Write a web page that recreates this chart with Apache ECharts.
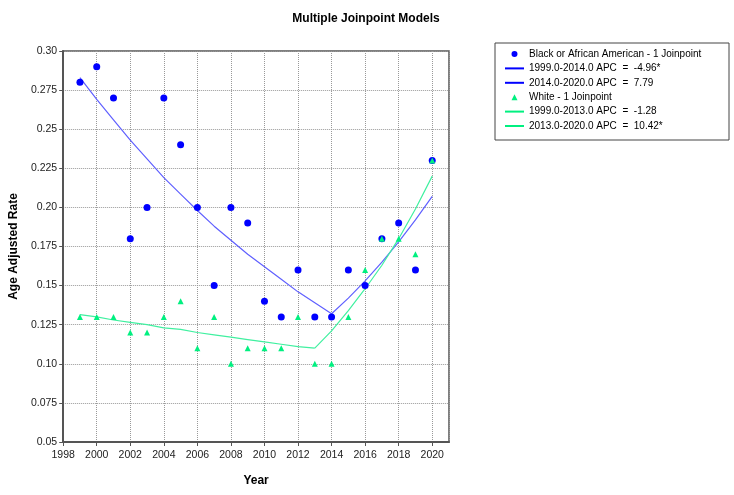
<!DOCTYPE html>
<html>
<head>
<meta charset="utf-8">
<script src="https://cdn.jsdelivr.net/npm/echarts@6/dist/echarts.min.js"></script>
<style>
  html, body { margin: 0; padding: 0; background: #fff; }
  #chart { width: 734px; height: 495px; }
</style>
</head>
<body>
<div id="chart"></div>
<script>
const years = [1999, 2000, 2001, 2002, 2003, 2004, 2005, 2006, 2007, 2008, 2009,
               2010, 2011, 2012, 2013, 2014, 2015, 2016, 2017, 2018, 2019, 2020];

// observed rates
const blackRates = [0.28, 0.29, 0.27, 0.18, 0.20, 0.27, 0.24, 0.20, 0.15, 0.20, 0.19,
                    0.14, 0.13, 0.16, 0.13, 0.13, 0.16, 0.15, 0.18, 0.19, 0.16, 0.23];
const whiteRates = [0.13, 0.13, 0.13, 0.12, 0.12, 0.13, 0.14, 0.11, 0.13, 0.10, 0.11,
                    0.11, 0.11, 0.13, 0.10, 0.10, 0.13, 0.16, 0.18, 0.18, 0.17, 0.23];

// fitted joinpoint segments
const blackFitYearsA = [1999, 2000, 2001, 2002, 2003, 2004, 2005, 2006, 2007, 2008, 2009, 2010, 2011, 2012, 2013, 2014];
const blackFitA = [0.283, 0.269, 0.256, 0.243, 0.231, 0.219, 0.2085, 0.198, 0.188, 0.179, 0.170, 0.162, 0.154, 0.146, 0.139, 0.132];
const blackFitYearsB = [2014, 2015, 2016, 2017, 2018, 2019, 2020];
const blackFitB = [0.132, 0.142, 0.153, 0.165, 0.178, 0.192, 0.207];
const whiteFitYearsA = [1999, 2000, 2001, 2002, 2003, 2004, 2005, 2006, 2007, 2008, 2009, 2010, 2011, 2012, 2013];
const whiteFitA = [0.1315, 0.130, 0.128, 0.1265, 0.125, 0.123, 0.122, 0.120, 0.1185, 0.117, 0.1155, 0.114, 0.1125, 0.111, 0.110];
const whiteFitYearsB = [2013, 2014, 2015, 2016, 2017, 2018, 2019, 2020];
const whiteFitB = [0.110, 0.121, 0.134, 0.148, 0.163, 0.180, 0.199, 0.220];

const seriesNames = [
  'Black or African American - 1 Joinpoint',
  '1999.0-2014.0 APC  =  -4.96*',
  '2014.0-2020.0 APC  =  7.79',
  'White - 1 Joinpoint',
  '1999.0-2013.0 APC  =  -1.28',
  '2013.0-2020.0 APC  =  10.42*'
];

const yTickLabels = ['0.05', '0.075', '0.10', '0.125', '0.15', '0.175', '0.20', '0.225', '0.25', '0.275', '0.30'];

const pair = (xs, ys) => xs.map((x, i) => [x, ys[i]]);

const font = 'Liberation Sans';
const blue = '#0000ff';
const green = '#00f080';
const lineIcon = 'path://M0,0L19,0L19,2L0,2Z';
const dotIcon = 'path://M3,0A3,3,0,1,1,2.99,0Z';
const triIcon = 'path://M3,0L6,6L0,6Z';

const chart = echarts.init(document.getElementById('chart'));

chart.setOption({
  animation: false,
  backgroundColor: '#fff',
  textStyle: { fontFamily: font },
  title: {
    text: 'Multiple Joinpoint Models',
    left: 361,
    top: 8,
    textAlign: 'center',
    textStyle: { fontSize: 12, fontWeight: 'bold', color: '#000', fontFamily: font }
  },
  grid: {
    left: 61, right: 285, top: 51, bottom: 53,
    show: true, borderColor: '#555', borderWidth: 1.5, backgroundColor: '#fff'
  },
  legend: {
    orient: 'vertical',
    left: 495,
    top: 43,
    padding: [4, 8, 7, 10],
    itemWidth: 19,
    itemHeight: 6,
    itemGap: 0.4,
    borderColor: '#444',
    borderWidth: 1,
    textStyle: { fontSize: 10, color: '#000', width: 192, lineHeight: 14, fontFamily: font },
    data: [
      { name: seriesNames[0], icon: dotIcon, itemStyle: { color: blue } },
      { name: seriesNames[1], icon: lineIcon, itemStyle: { color: blue } },
      { name: seriesNames[2], icon: lineIcon, itemStyle: { color: blue } },
      { name: seriesNames[3], icon: triIcon, itemStyle: { color: green } },
      { name: seriesNames[4], icon: lineIcon, itemStyle: { color: green } },
      { name: seriesNames[5], icon: lineIcon, itemStyle: { color: green } }
    ]
  },
  xAxis: {
    type: 'value',
    min: 1998, max: 2021, interval: 2,
    name: 'Year',
    nameLocation: 'middle',
    nameGap: 33,
    nameTextStyle: { fontSize: 12, fontWeight: 'bold', color: '#000' },
    axisLine: { lineStyle: { color: '#555', width: 2 } },
    axisTick: { length: 4, lineStyle: { color: '#555' } },
    axisLabel: { showMaxLabel: false, fontSize: 10.5, color: '#222', margin: 8, formatter: v => String(v) },
    splitLine: { lineStyle: { color: '#999', type: 'dotted' } }
  },
  yAxis: {
    type: 'value',
    min: 0.05, max: 0.30, interval: 0.025,
    name: 'Age Adjusted Rate',
    nameLocation: 'middle',
    nameGap: 41,
    nameTextStyle: { fontSize: 12, fontWeight: 'bold', color: '#000' },
    axisLine: { show: true, lineStyle: { color: '#555', width: 2 } },
    axisTick: { show: true, length: 4, lineStyle: { color: '#555' } },
    axisLabel: {
      fontSize: 10.5, color: '#222', margin: 6,
      formatter: v => yTickLabels[Math.round((v - 0.05) / 0.025)]
    },
    splitLine: { lineStyle: { color: '#999', type: 'dotted' } }
  },
  series: [
    {
      name: seriesNames[1], type: 'line', data: pair(blackFitYearsA, blackFitA),
      symbol: 'none', lineStyle: { color: '#6060ff', width: 1.2 }, itemStyle: { color: blue }, z: 2
    },
    {
      name: seriesNames[2], type: 'line', data: pair(blackFitYearsB, blackFitB),
      symbol: 'none', lineStyle: { color: '#6060ff', width: 1.2 }, itemStyle: { color: blue }, z: 2
    },
    {
      name: seriesNames[4], type: 'line', data: pair(whiteFitYearsA, whiteFitA),
      symbol: 'none', lineStyle: { color: '#40f0a0', width: 1.2 }, itemStyle: { color: green }, z: 2
    },
    {
      name: seriesNames[5], type: 'line', data: pair(whiteFitYearsB, whiteFitB),
      symbol: 'none', lineStyle: { color: '#40f0a0', width: 1.2 }, itemStyle: { color: green }, z: 2
    },
    {
      name: seriesNames[0], type: 'scatter', data: pair(years, blackRates),
      symbol: 'circle', symbolSize: 7, itemStyle: { color: blue, opacity: 1 }, z: 3
    },
    {
      name: seriesNames[3], type: 'scatter', data: pair(years, whiteRates),
      symbol: 'triangle', symbolSize: 6, itemStyle: { color: green, opacity: 1 }, z: 4
    }
  ]
});
</script>
</body>
</html>
